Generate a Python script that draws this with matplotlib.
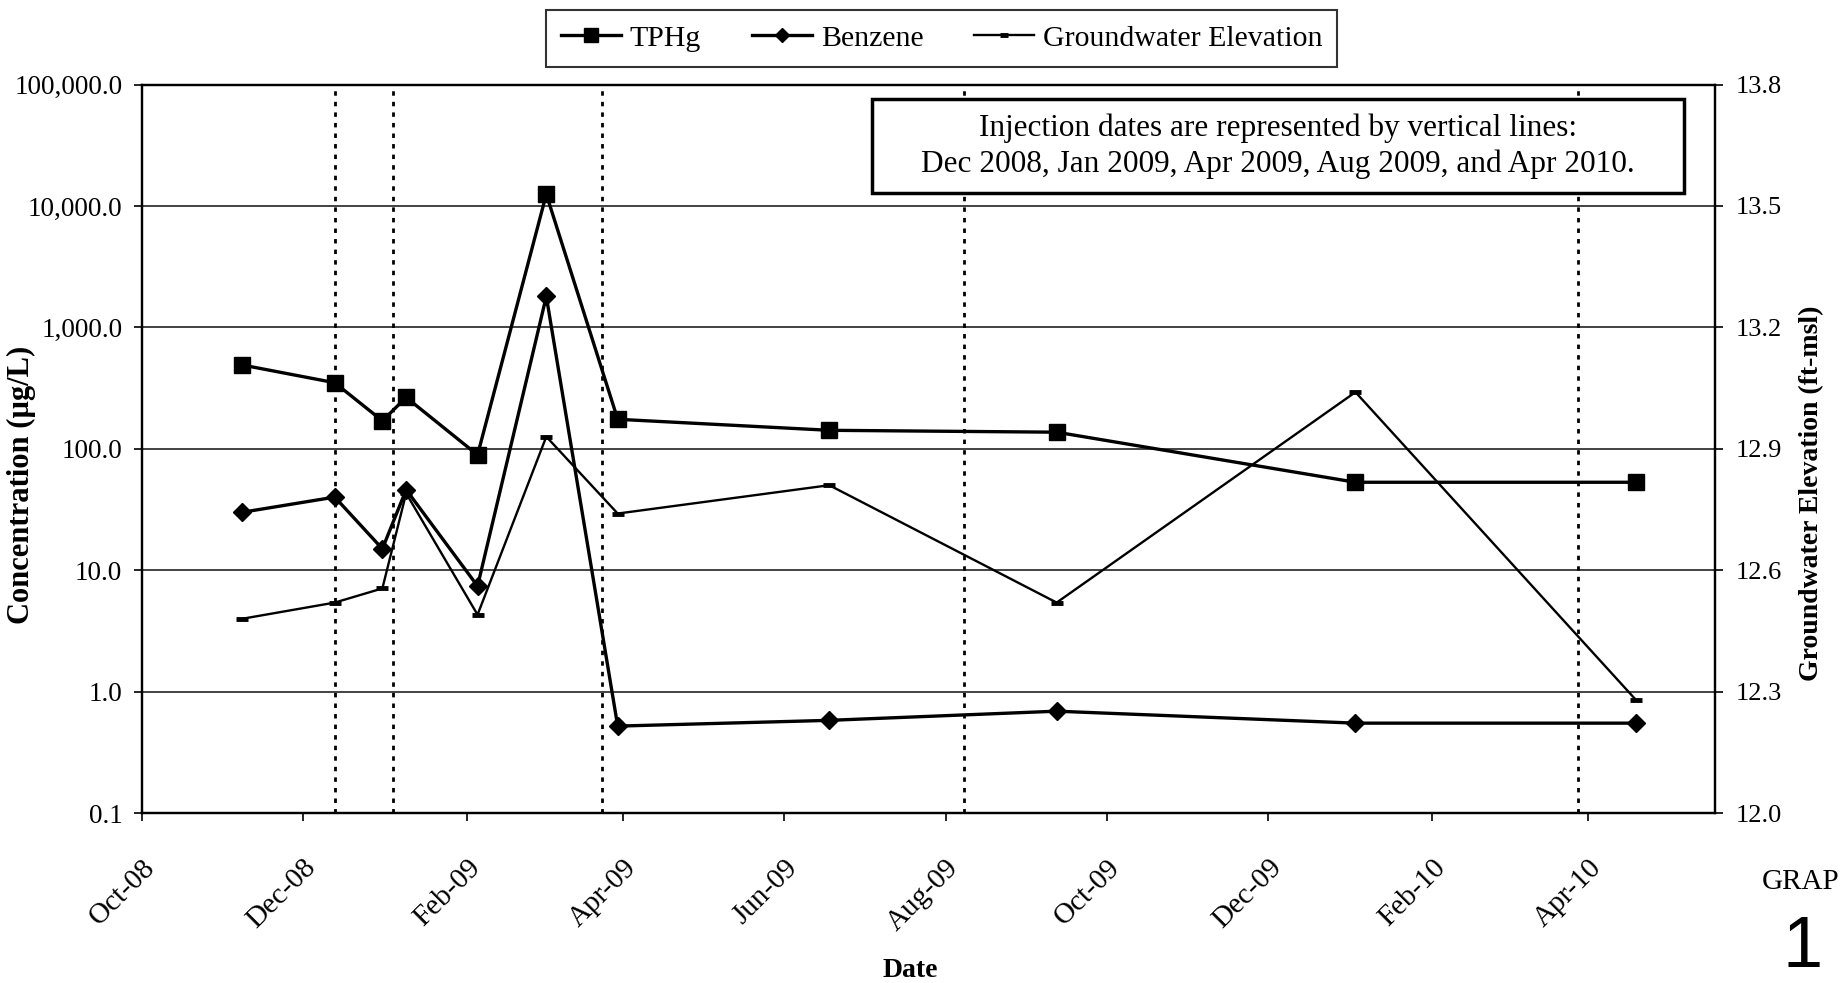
import matplotlib
matplotlib.use("Agg")
import matplotlib.pyplot as plt
import matplotlib.dates as mdates
from matplotlib.patches import Rectangle
from matplotlib.ticker import FuncFormatter, NullLocator
import pandas as pd

plt.rcParams.update({
    "font.family": ["Liberation Serif", "DejaVu Serif"],
    "font.size": 18,
    "axes.linewidth": 1.6,
    "xtick.major.size": 6, "ytick.major.size": 6,
    "xtick.major.width": 1.2, "ytick.major.width": 1.2,
})

# valores
sample_dates = pd.to_datetime([
    "2008-11-08", "2008-12-13", "2008-12-31", "2009-01-09", "2009-02-05",
    "2009-03-03", "2009-03-30", "2009-06-18", "2009-09-12", "2010-01-03",
    "2010-04-19",
])
tphg = [490, 350, 170, 265, 89, 12500, 175, 142, 137, 53, 53]
benzene = [30, 40, 15, 46, 7.4, 1800, 0.52, 0.58, 0.69, 0.55, 0.55]
gw_elev = [12.48, 12.52, 12.555, 12.79, 12.49, 12.93, 12.74, 12.81, 12.52,
           13.04, 12.28]

injection_dates = pd.to_datetime([
    "2008-12-13", "2009-01-04", "2009-03-24", "2009-08-08", "2010-03-28",
])

conc_ticks = [0.1, 1, 10, 100, 1000, 10000, 100000]
gw_ticks = [12.0, 12.3, 12.6, 12.9, 13.2, 13.5, 13.8]
x_start, x_end = pd.Timestamp("2008-10-01"), pd.Timestamp("2010-05-19")

note = ("Injection dates are represented by vertical lines:\n"
        "Dec 2008, Jan 2009, Apr 2009, Aug 2009, and Apr 2010.")

fig = plt.figure(figsize=(18.43, 9.83), dpi=100)
ax = fig.add_axes([0.0769, 0.1729, 0.8537, 0.7411])
ax2 = ax.twinx()

# lineas de inyeccion
for d in injection_dates:
    ax.axvline(d, color="black", lw=2.0, ls=(0, (1.6, 2.2)), zorder=2)

l1, = ax.plot(sample_dates, tphg, color="black", lw=2.4, marker="s",
              ms=12, zorder=4, label="TPHg")
l2, = ax.plot(sample_dates, benzene, color="black", lw=2.4, marker="D",
              ms=9.5, zorder=4, label="Benzene")
l3, = ax2.plot(sample_dates, gw_elev, color="black", lw=1.7, marker="_",
               ms=8, mew=3.5, zorder=4, label="Groundwater Elevation")

ax.set_yscale("log")
ax.set_ylim(0.1, 100000)
ax.set_yticks(conc_ticks)
ax.yaxis.set_minor_locator(NullLocator())
ax.yaxis.set_major_formatter(FuncFormatter(lambda v, p: f"{v:,.1f}"))
ax.grid(True, axis="y", color="#222222", lw=1.2)
ax.set_axisbelow(True)

ax2.set_ylim(12.0, 13.8)
ax2.set_yticks(gw_ticks)
ax2.yaxis.set_major_formatter(FuncFormatter(lambda v, p: f"{v:.1f}"))

ax.set_xlim(x_start, x_end)
ax.xaxis.set_major_locator(mdates.MonthLocator(bymonth=[2, 4, 6, 8, 10, 12]))
ax.xaxis.set_major_formatter(mdates.DateFormatter("%b-%y"))
ax.xaxis.set_minor_locator(NullLocator())
ax.tick_params(axis="x", labelsize=21, pad=24)
ax.tick_params(axis="y", labelsize=19.5, pad=8)
ax2.tick_params(axis="y", labelsize=19, pad=9)
for lab in ax.get_xticklabels():
    lab.set_rotation(45)
    lab.set_ha("right")
    lab.set_va("top")
    lab.set_rotation_mode("anchor")

fig.text(0.0114, 0.507, "Concentration (\u00b5g/L)", rotation=90,
         ha="center", va="center", fontsize=22, fontweight="bold")
fig.text(0.983, 0.498, "Groundwater Elevation (ft-msl)", rotation=90,
         ha="center", va="center", fontsize=20, fontweight="bold")
fig.text(0.494, 0.013, "Date", ha="center", va="center",
         fontsize=20, fontweight="bold")

leg = fig.legend([l1, l2, l3], ["TPHg", "Benzene", "Groundwater Elevation"],
                 loc="center", bbox_to_anchor=(0.511, 0.961), ncol=3,
                 fontsize=21.5, frameon=True, fancybox=False, edgecolor="black",
                 handlelength=2.0, handletextpad=0.3, columnspacing=1.7,
                 borderpad=0.5, markerscale=0.8)
leg.get_frame().set_linewidth(1.5)

# recuadro de nota
fig.patches.append(Rectangle((0.4731, 0.8037), 0.4406, 0.0956,
                             transform=fig.transFigure, facecolor="white",
                             edgecolor="black", linewidth=2.5, zorder=5))
fig.text(0.6934, 0.8515, note, ha="center", va="center", fontsize=22.5,
         linespacing=1.3, zorder=6)

fig.text(0.956, 0.103, "GRAP", ha="left", va="center", fontsize=21)
fig.text(0.978, 0.001, "1", ha="center", va="bottom", fontsize=52,
         family=["Liberation Sans", "DejaVu Sans"])

fig.savefig("out.png", dpi=100, facecolor="white")
plt.close()
